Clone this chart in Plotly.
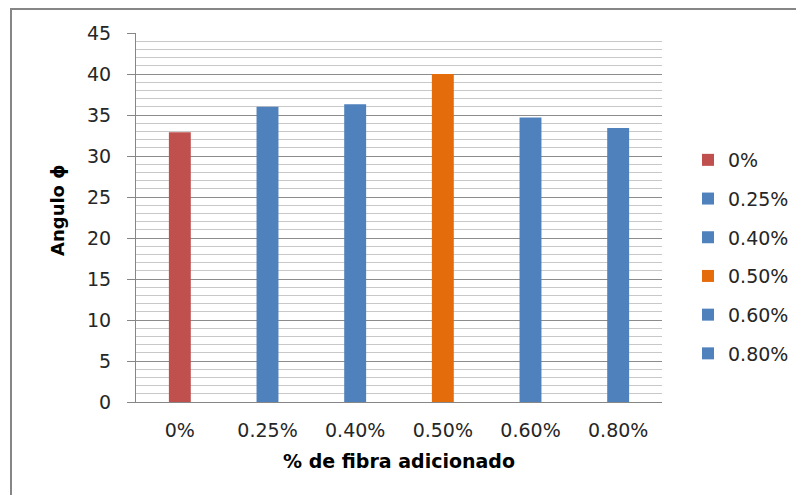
import plotly.graph_objects as go

categories = ["0%", "0.25%", "0.40%", "0.50%", "0.60%", "0.80%"]
values = [32.9, 36.0, 36.3, 40.0, 34.7, 33.4]
colors = ["#C0504D", "#4F81BD", "#4F81BD", "#E46C0A", "#4F81BD", "#4F81BD"]

# page body has an 8px margin; figure sized to fill the rest of the window
OFF = 8
W, H = 804 - OFF, 495 - OFF
L, R, T, B = 136 - OFF, 804 - 662, 33 - OFF, 495 - 402
pw = W - L - R
ph = H - T - B

fig = go.Figure()
for i, (c, v, col) in enumerate(zip(categories, values, colors)):
    fig.add_trace(go.Bar(x=[c], y=[v], name=c, marker=dict(color=col, line=dict(width=0)),
                         width=0.25, legendgroup=f"g{i}"))

font = "DejaVu Sans"
fig.update_layout(
    width=W, height=H,
    margin=dict(l=L, r=R, t=T, b=B, autoexpand=False),
    barmode="overlay",
    paper_bgcolor="white", plot_bgcolor="white",
    font=dict(family=font, size=19, color="#262626"),
    showlegend=True,
    legend=dict(x=(688 - OFF - L) / pw, xanchor="left", y=(H - B - (141 - OFF)) / ph, yanchor="top",
                font=dict(size=19, family=font, color="#262626"), tracegroupgap=11,
                bgcolor="rgba(0,0,0,0)", itemwidth=30),
    xaxis=dict(categoryorder="array", categoryarray=categories, showgrid=False,
               showline=True, linecolor="#868686", linewidth=1, ticks="",
               ticklabelstandoff=11,
               title=dict(text="<b>% de fibra adicionado</b>", font=dict(size=19, family=font, color="#000"), standoff=14)),
    yaxis=dict(range=[0, 45], dtick=5, showgrid=True, gridcolor="#8C8C8C", gridwidth=1,
               showline=True, linecolor="#868686", linewidth=1, ticks="outside", ticklen=8,
               tickcolor="#868686", ticklabelstandoff=12, zeroline=False,
               minor=dict(dtick=1, showgrid=True, gridcolor="#C8C8C8", gridwidth=1, ticks="")),
    annotations=[dict(text="<b>Angulo ϕ</b>", textangle=-90, xref="paper", yref="paper",
                      x=(58 - OFF - L) / pw, y=(H - B - (210 - OFF)) / ph,
                      xanchor="center", yanchor="middle", showarrow=False,
                      font=dict(size=18, family=font, color="#000"))],
    shapes=[dict(type="rect", xref="paper", yref="paper",
                 x0=(11 - OFF - L) / pw, x1=(W + 20 - L) / pw,
                 y0=(H - B - (H + 20)) / ph, y1=(H - B - (9 - OFF)) / ph,
                 line=dict(color="#868686", width=2), fillcolor="rgba(0,0,0,0)", layer="below")],
)

fig.write_html("out.html")
